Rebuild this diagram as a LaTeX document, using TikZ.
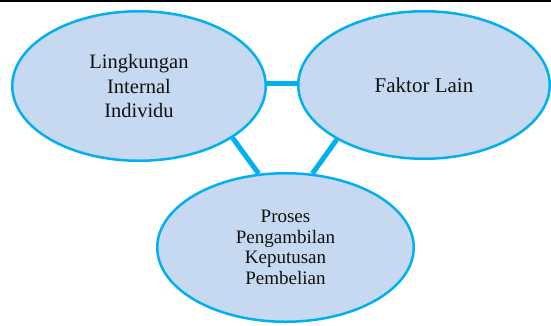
\documentclass[tikz,border=0pt]{standalone}
\usepackage{fontspec}
\setmainfont{Liberation Serif}
\newfontfamily\diagfont{Liberation Serif}
\usetikzlibrary{shapes.geometric}
\definecolor{ecyan}{HTML}{00B0F0}
\definecolor{efill}{HTML}{C6D9F1}
\definecolor{etext}{HTML}{111111}
\tikzset{
  bubble/.style={ellipse, draw=ecyan, fill=efill, line width=2.5pt, inner sep=0pt, align=center, text=etext},
  link/.style={draw=ecyan, line width=5pt}
}
\begin{document}
\begin{tikzpicture}[x=1pt,y=-1pt]
\useasboundingbox (0,0) rectangle (551,325);
\draw[line width=2pt] (0,1) -- (551,1);
\node[bubble, minimum width=253.5pt, minimum height=149.5pt, font=\diagfont\fontsize{20.5}{24.5}\selectfont] (L) at (139,86) {Lingkungan\\Internal\\Individu};
\node[bubble, minimum width=251.5pt, minimum height=147.5pt, font=\diagfont\fontsize{21}{25}\selectfont] (R) at (424,85) {Faktor Lain};
\node[bubble, minimum width=256.5pt, minimum height=148.5pt, font=\diagfont\fontsize{19}{20.5}\selectfont] (B) at (285.5,247.5) {Proses\\Pengambilan\\Keputusan\\Pembelian};
\draw[link] (L.1.4) -- (L.1.4 -| R.west);
\draw[link] (L.-29.4) -- (B.110);
\draw[link] (R.212) -- (B.70);
\end{tikzpicture}
\end{document}
